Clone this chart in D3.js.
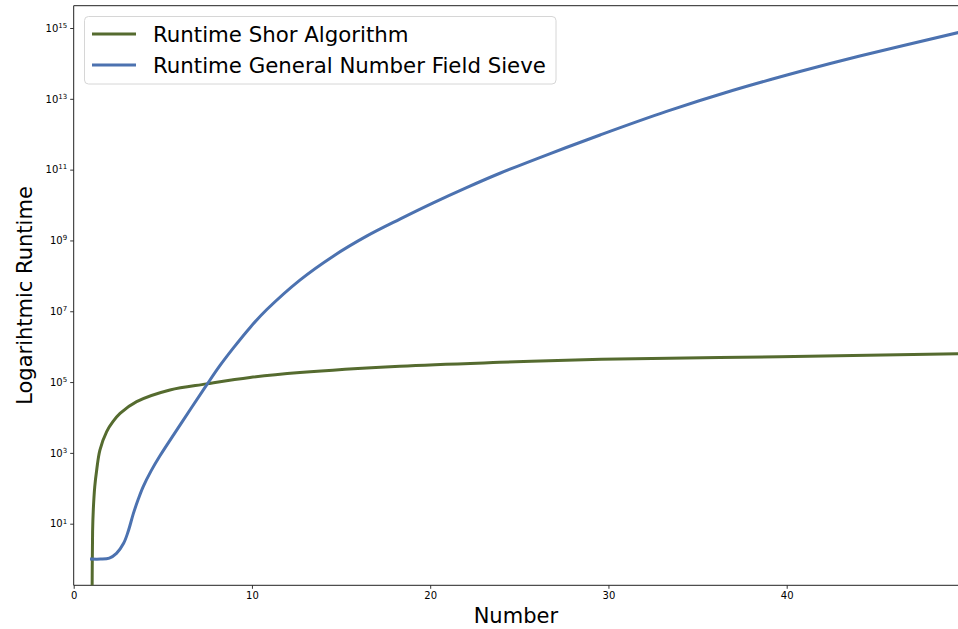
<!DOCTYPE html>
<html><head><meta charset="utf-8">
<script src="https://cdn.jsdelivr.net/npm/d3@7"></script>
<style>
body{margin:0;background:#fff;}
svg{display:block;font-family:"DejaVu Sans",sans-serif;}
</style></head>
<body><svg id="c" width="958" height="629"></svg>
<script>
// ---- data ----
const seriesNames = ["Runtime Shor Algorithm", "Runtime General Number Field Sieve"];
const shorX = [1.03, 1.06, 1.10, 1.18, 1.29, 1.47, 1.85, 2.2, 2.6, 3.53, 5.4, 7.46, 9.89, 12.69, 18.3, 23.9, 29.6, 39.6, 49.7];
const shorY = [0.05, 6, 25, 110, 330, 1200, 4000, 7600, 1.3e4, 2.8e4, 6.0e4, 8.9e4, 1.35e5, 1.86e5, 2.8e5, 3.6e5, 4.4e5, 5.2e5, 6.3e5];
const gnfsX = [1, 1.5, 2, 2.4, 2.8, 3.05, 3.35, 3.62, 3.9, 4.35, 4.84, 6.0, 7.46, 8.2, 8.95, 9.9, 10.82, 12.69, 14.56, 16.43, 18.3, 20.17, 22.04, 23.91, 26.7, 29.53, 33.26, 37.0, 40.74, 44.1, 49.7];
const gnfsY = [1, 1, 1.07, 1.45, 2.8, 5.9, 19.5, 49, 112, 316, 830, 6.5e3, 8.3e4, 2.9e5, 9.1e5, 3.5e6, 1.1e7, 7.6e7, 3.6e8, 1.32e9, 4.0e9, 1.15e10, 3.1e10, 7.9e10, 2.8e11, 9.5e11, 4.4e12, 1.74e13, 5.9e13, 1.62e14, 7.6e14];
const xTicks = [0, 10, 20, 30, 40];
const yTickExps = [1, 3, 5, 7, 9, 11, 13, 15];
const xLabel = "Number";
const yLabel = "Logarihtmic Runtime";
const colors = ["#556B2F", "#4C72B0"];

// ---- layout ----
const L = 73.7, R = 958, T = 5.7, B = 585.3;
const svg = d3.select("#c");
const x = d3.scaleLinear().domain([0, 49.61]).range([L, R]);
const y = d3.scaleLog().domain([Math.pow(10, -0.74), Math.pow(10, 15.63)]).range([B, T]);

svg.append("defs").append("clipPath").attr("id", "clip")
  .append("rect").attr("x", L).attr("y", T).attr("width", R - L).attr("height", B - T);

// axes
const xAxis = svg.append("g").attr("transform", `translate(0,${B})`)
  .call(d3.axisBottom(x).tickValues(xTicks).tickSize(3.5).tickPadding(3).tickFormat(d3.format("d")));
const yAxis = svg.append("g").attr("transform", `translate(${L},0)`)
  .call(d3.axisLeft(y).tickValues(yTickExps.map(e => Math.pow(10, e))).tickSize(3.5).tickPadding(3).tickFormat(() => ""));
[xAxis, yAxis].forEach(g => {
  g.select(".domain").remove();
  g.selectAll(".tick line").attr("stroke", "#000").attr("stroke-width", 0.8);
  g.selectAll("text").attr("font-family", "DejaVu Sans").attr("font-size", 10).attr("fill", "#000");
});
yAxis.selectAll(".tick text").each(function(d) {
  const t = d3.select(this);
  t.text(null).attr("dy", "0.32em");
  t.append("tspan").text("10");
  t.append("tspan").attr("font-size", 7).attr("dy", "-0.55em").text(String(Math.round(Math.log10(d))));
});

// spines
svg.append("path").attr("d", `M${L},${T}H${R}M${L},${T}V${B}H${R}`)
  .attr("fill", "none").attr("stroke", "#222").attr("stroke-width", 1);

// lines
const line = d3.line().x(d => x(d[0])).y(d => y(d[1])).curve(d3.curveCatmullRom.alpha(0.5));
const series = [d3.zip(shorX, shorY), d3.zip(gnfsX, gnfsY)];
const lg = svg.append("g").attr("clip-path", "url(#clip)");
series.forEach((s, i) => {
  lg.append("path").datum(s).attr("d", line).attr("fill", "none")
    .attr("stroke", colors[i]).attr("stroke-width", 3).attr("stroke-linecap", "square")
    .attr("stroke-linejoin", "round");
});

// labels
svg.append("text").attr("x", (L + R) / 2).attr("y", 623).attr("text-anchor", "middle")
  .attr("font-size", 21).attr("fill", "#000").text(xLabel);
svg.append("text").attr("transform", `translate(32,${(T + B) / 2}) rotate(-90)`).attr("text-anchor", "middle")
  .attr("font-size", 21).attr("fill", "#000").text(yLabel);

// legend
const leg = svg.append("g");
leg.append("rect").attr("x", 84.5).attr("y", 16.5).attr("width", 471.5).attr("height", 67.5)
  .attr("rx", 4).attr("fill", "#fff").attr("fill-opacity", 0.8).attr("stroke", "#d6d6d6").attr("stroke-width", 1);
seriesNames.forEach((n, i) => {
  const cy = 34 + i * 31;
  leg.append("line").attr("x1", 92).attr("x2", 136).attr("y1", cy).attr("y2", cy)
    .attr("stroke", colors[i]).attr("stroke-width", 3);
  leg.append("text").attr("x", 153).attr("y", cy + 7.5).attr("font-size", 21.3).attr("fill", "#000").text(n);
});
</script></body></html>
